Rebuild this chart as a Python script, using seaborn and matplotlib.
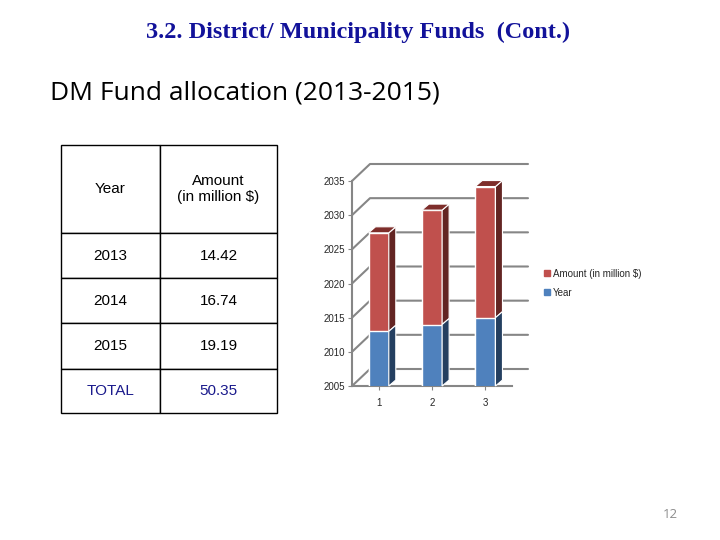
import seaborn as sns
from matplotlib import pyplot as plt
from matplotlib.patches import Polygon
from matplotlib.lines import Line2D
import numpy as np
import pandas as pd

# data
categories = ['1', '2', '3']
years = [2013, 2014, 2015]
amounts = [14.42, 16.74, 19.19]
total_label = '50.35'
y_ticks = [2005, 2010, 2015, 2020, 2025, 2030, 2035]

RED = '#C0504D'
RED_SIDE = '#632523'
RED_TOP = '#7E2E2B'
BLUE = '#4F81BD'
BLUE_SIDE = '#243F60'
GRID = '#868686'


def main():
    sns.set_style('white')
    plt.rcParams['font.family'] = ['Liberation Sans', 'DejaVu Sans']

    fig = plt.figure(figsize=(7.2, 5.4), dpi=100)

    # titles
    fig.text(0.497, 0.94, '3.2. District/ Municipality Funds  (Cont.)',
             ha='center', va='center', fontsize=17.5, fontweight='bold',
             family=['Liberation Serif', 'DejaVu Serif'], color='#12129A')
    fig.text(50 / 720, 1 - 93 / 540, 'DM Fund allocation (2013-2015)',
             ha='left', va='center', fontsize=19, color='black',
             family=['Open Sans', 'DejaVu Sans'])
    fig.text(670 / 720, 1 - 515 / 540, '12', ha='center', va='center',
             fontsize=9.5, color='#8C8C8C', family=['Open Sans', 'DejaVu Sans'])

    # table
    tax = fig.add_axes([61 / 720, 1 - 413 / 540, 216 / 720, 268 / 540])
    tax.axis('off')
    cell_text = [['Year', 'Amount\n(in million $)']]
    cell_text += [[str(y), f'{a:.2f}'] for y, a in zip(years, amounts)]
    cell_text += [['TOTAL', total_label]]
    tbl = tax.table(cellText=cell_text, cellLoc='center', bbox=[0, 0, 1, 1],
                    colWidths=[99 / 216, 117 / 216])
    tbl.auto_set_font_size(False)
    tbl.set_fontsize(11)
    row_h = [88, 45, 45, 46, 44]
    for (r, c), cell in tbl.get_celld().items():
        cell.set_height(row_h[r] / 268)
        cell.set_edgecolor('black')
        cell.set_linewidth(1.0)
        cell.get_text().set_color('black')
        if r == len(row_h) - 1:
            cell.get_text().set_color('#1A1A8C')

    # chart
    df = pd.DataFrame({'cat': categories, 'year': years, 'amount': amounts})
    df['total'] = df['year'] + df['amount']

    ax = fig.add_axes([352 / 720, 1 - 386 / 540, 160 / 720, 205 / 540])
    sns.barplot(data=df, x='cat', y='total', color=RED, saturation=1, width=0.38,
                edgecolor='white', linewidth=1, ax=ax, zorder=3)
    sns.barplot(data=df, x='cat', y='year', color=BLUE, saturation=1, width=0.38,
                edgecolor='white', linewidth=1, ax=ax, zorder=4)
    ax.set_ylim(y_ticks[0], y_ticks[-1])
    ax.set_xlim(-0.5, 2.5)
    ax.set_yticks(y_ticks)
    ax.set_xlabel('')
    ax.set_ylabel('')
    ax.tick_params(axis='both', labelsize=7, length=3, color=GRID, direction='out',
                   left=True, bottom=True, pad=2)
    ax.tick_params(axis='x', pad=6)
    for s in ['top', 'right']:
        ax.spines[s].set_visible(False)
    for s in ['left', 'bottom']:
        ax.spines[s].set_color(GRID)
        ax.spines[s].set_linewidth(1.5)

    # pseudo 3d back wall grid
    to_fig = fig.transFigure.inverted()
    wall_dx, wall_dy = 18, 17
    x_right = 528
    for t in y_ticks:
        x0, y0 = ax.transData.transform((-0.5, t))
        pts = np.array([[x0, y0], [x0 + wall_dx, y0 + wall_dy], [x_right, y0 + wall_dy]])
        p = to_fig.transform(pts)
        fig.add_artist(Line2D(p[:, 0], p[:, 1], color=GRID, lw=1.5, zorder=0.5))

    # bar depth
    dx, dy = 7, 6
    lo = ax.get_ylim()[0]
    patches = list(ax.patches)
    n = len(categories)
    for i, p in enumerate(patches):
        is_red = i < n
        x0 = p.get_x()
        x1 = x0 + p.get_width()
        yb = max(p.get_y(), lo)
        if is_red:
            yb = years[i]
        yt = p.get_y() + p.get_height()
        a = ax.transData.transform((x0, yt))
        b = ax.transData.transform((x1, yt))
        c = ax.transData.transform((x1, yb))
        side = np.array([c, b, b + [dx, dy], c + [dx, dy]])
        fig.add_artist(Polygon(to_fig.transform(side), closed=True,
                               facecolor=RED_SIDE if is_red else BLUE_SIDE,
                               edgecolor='white', lw=0.8, zorder=2))
        if is_red:
            top = np.array([a, b, b + [dx, dy], a + [dx, dy]])
            fig.add_artist(Polygon(to_fig.transform(top), closed=True,
                                   facecolor=RED_TOP, edgecolor='white', lw=0.8, zorder=2))
    ax.set_zorder(1)
    ax.patch.set_alpha(0)

    # legend
    handles = [Line2D([], [], marker='s', ls='', color=RED, markersize=5),
               Line2D([], [], marker='s', ls='', color=BLUE, markersize=5)]
    fig.legend(handles, ['Amount (in million $)', 'Year'], loc='upper left',
               bbox_to_anchor=(537 / 720, 1 - 265 / 540), frameon=False,
               fontsize=7, handletextpad=0.0, handlelength=1.2,
               labelspacing=0.9, borderaxespad=0)

    fig.savefig('out.png', dpi=100)


if __name__ == '__main__':
    main()
